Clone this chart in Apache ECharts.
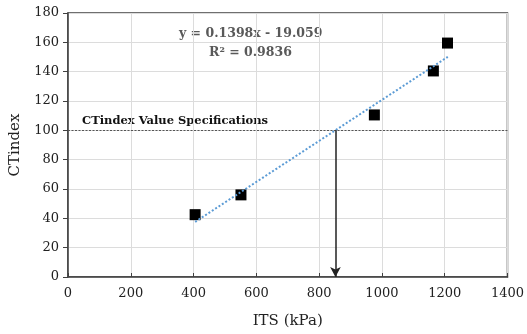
<!DOCTYPE html>
<html>
<head>
<meta charset="utf-8">
<title>CTindex vs ITS</title>
<script src="https://cdn.jsdelivr.net/npm/echarts@6/dist/echarts.min.js"></script>
<style>html,body{margin:0;padding:0;background:#fff;}</style>
</head>
<body>
<div id="main" style="width:527px;height:334px;"></div>
<script>
// measured points
var itsValues = [405, 551, 976, 1164, 1209];
var ctValues = [42.5, 56, 110.5, 140.5, 159.5];
// linear trend ends (y = 0.1398x - 19.059)
var trendX = [405, 1210];
var trendY = [37.56, 150.1];
var specValue = 100;
var specX = 852;
var xTicks = [0, 1400, 200];
var yTicks = [0, 180, 20];

var serif = '"DejaVu Serif", serif';
var chart = echarts.init(document.getElementById('main'));

var points = itsValues.map(function (x, i) { return [x, ctValues[i]]; });
var trend = trendX.map(function (x, i) { return [x, trendY[i]]; });

chart.setOption({
    animation: false,
    grid: { left: 66, right: 16, top: 13, bottom: 56, show: true, borderColor: '#404040', borderWidth: 1.5 },
    xAxis: {
        type: 'value', min: xTicks[0], max: xTicks[1], interval: xTicks[2],
        name: 'ITS (kPa)', nameLocation: 'middle', nameGap: 37,
        nameTextStyle: { fontFamily: serif, fontSize: 15, color: '#222' },
        axisLine: { lineStyle: { color: '#404040', width: 1.5 } },
        axisTick: { inside: true, length: 4, lineStyle: { color: '#404040' } },
        axisLabel: { fontFamily: serif, fontSize: 13, color: '#222', margin: 10, formatter: function (v) { return String(v); } },
        splitLine: { lineStyle: { color: '#dcdcdc' } }
    },
    yAxis: {
        type: 'value', min: yTicks[0], max: yTicks[1], interval: yTicks[2],
        name: 'CTindex', nameLocation: 'middle', nameGap: 45,
        nameTextStyle: { fontFamily: serif, fontSize: 15, color: '#222' },
        axisLine: { show: true, lineStyle: { color: '#404040', width: 1.5 } },
        axisTick: { show: true, length: 5, lineStyle: { color: '#404040' } },
        axisLabel: { fontFamily: serif, fontSize: 13, color: '#222', margin: 9 },
        splitLine: { lineStyle: { color: '#dcdcdc' } }
    },
    series: [
        {
            type: 'line', data: trend, symbol: 'none', silent: true,
            lineStyle: { color: '#5b9bd5', width: 2, type: [2, 2] },
            markLine: {
                silent: true, symbol: 'none', label: { show: false },
                lineStyle: { color: '#555', width: 1, type: [2, 1.5] },
                data: [{ yAxis: specValue }]
            }
        },
        {
            type: 'line', data: [], silent: true,
            markLine: {
                silent: true, symbol: ['none', 'arrow'], symbolSize: [8, 10], label: { show: false },
                lineStyle: { color: '#222', width: 1.5, type: 'solid' },
                data: [[{ coord: [specX, specValue] }, { coord: [specX, 0] }]]
            }
        },
        {
            type: 'scatter', data: points, symbol: 'rect', symbolSize: 11,
            itemStyle: { color: '#000', opacity: 1 }
        }
    ],
    graphic: [
        { type: 'text', left: 179, top: 27, style: { text: 'y = 0.1398x - 19.059', font: 'bold 12.5px ' + serif, fill: '#595959' } },
        { type: 'text', left: 209, top: 46, style: { text: 'R² = 0.9836', font: 'bold 12.5px ' + serif, fill: '#595959' } },
        { type: 'text', left: 82, top: 115, style: { text: 'CTindex Value Specifications', font: 'bold 11.5px ' + serif, fill: '#111' } }
    ]
});
</script>
</body>
</html>
